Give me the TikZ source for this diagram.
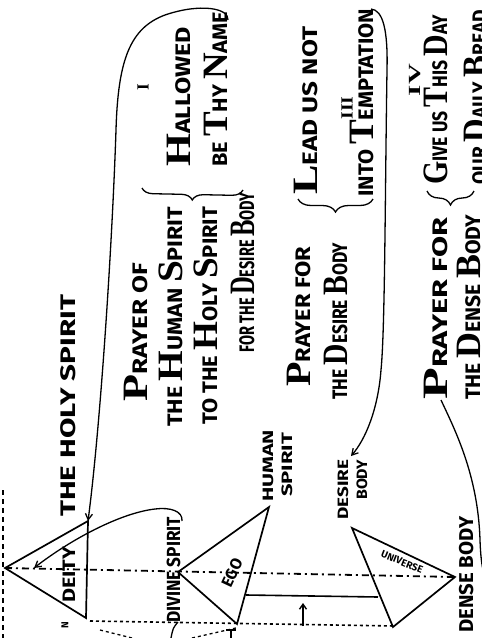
\documentclass[tikz,border=0pt]{standalone}
\usepackage{fontspec}
\setmainfont{Fira Sans}
\newfontfamily\capfont{Liberation Serif}
\usepackage{graphicx}
\usetikzlibrary{arrows.meta, decorations.pathreplacing}
\newcommand{\bigc}[1]{\scalebox{1.7}{\capfont\bfseries #1}}
\newcommand{\fitw}[2]{\resizebox{#1pt}{\height}{#2}}
\tikzset{
  vtext/.style={rotate=90, anchor=base west, inner sep=0pt, font=\fontsize{21}{21}\selectfont\bfseries},
  vlabel/.style={rotate=90, anchor=base west, inner sep=0pt, font=\fontsize{15}{15}\selectfont\bfseries},
  roman/.style={rotate=90, inner sep=0pt, font=\fontsize{17}{17}\selectfont\capfont\bfseries},
  tri/.style={line width=1.7pt, line join=miter},
  conn/.style={line width=1.3pt, -{Straight Barb[length=6pt, width=7pt]}},
  axis/.style={line width=1.8pt, dash pattern=on 7pt off 4pt on 2pt off 4pt},
  brc/.style={line width=1.3pt, decorate, decoration={brace, amplitude=#1}},
}

\begin{document}
\begin{tikzpicture}[x=1pt, y=-1pt]
\useasboundingbox (0,0) rectangle (482,638);
\clip (0,0) rectangle (482,638);

\coordinate (dapex) at (5,568);
\coordinate (dtop) at (88,521);
\coordinate (dbot) at (86,618);
\coordinate (eapex) at (178,572);
\coordinate (etop) at (269,507);
\coordinate (ebot) at (237,624);
\coordinate (btop) at (352,528);
\coordinate (bapex) at (455,577);
\coordinate (bbot) at (393,627);

\draw[tri] (dapex) -- (dtop) -- (dbot) -- cycle;
\draw[tri] (eapex) -- (etop) -- (ebot) -- cycle;
\draw[tri] (btop) -- (bapex) -- (bbot) -- cycle;

\draw[axis] (dapex) -- (bapex);
\draw[line width=1.6pt, dashed] (90,621) -- (395,626);
\draw[line width=1.6pt] (246,595) -- (378,597);
\draw[line width=1.4pt, -{Straight Barb[length=5pt, width=7pt]}] (303,626) -- (303,603);

\draw[line width=1.5pt, dash pattern=on 5pt off 4pt] (3,490) -- (3,638);
\draw[line width=1.3pt, dashed] (100,630) -- (132,638);
\draw[line width=1.3pt] (178,622) .. controls (173,628) .. (171,638);
\draw[line width=1.3pt, dashed] (192,638) -- (236,628);
\draw[line width=1.3pt] (226,630) -- (236,630) (231,630) -- (231,638);

\node[vtext] (holysp) at (75,517) {\fitw{222}{THE HOLY SPIRIT}};
\node[vtext] (pray1) at (147,402) {\fitw{139}{\bigc{P}RAYER OF}};
\node[vtext] (humsp) at (182,427) {\fitw{220}{THE \bigc{H}UMAN \bigc{S}PIRIT}};
\node[vtext] (tohs) at (217,425) {\fitw{218}{TO THE \bigc{H}OLY \bigc{S}PIRIT}};
\node[vtext] (fordb) at (254,353) {\fitw{160}{FOR THE \bigc{D}ESIRE \bigc{B}ODY}};
\node[roman] (num1) at (143,87) {I};
\node[vtext] (hallow) at (190,167) {\fitw{140}{\bigc{H}ALLOWED}};
\node[vtext] (bethy) at (227,167) {\fitw{155}{BE \bigc{T}HY \bigc{N}AME}};
\draw[brc=11pt] (243,190) -- (142,188);

\node[roman] (num3) at (347,108) {\fitw{23}{III}};
\node[vtext] (pray2) at (310,387) {\fitw{140}{\bigc{P}RAYER FOR}};
\node[vtext] (thedb) at (347,400) {\fitw{157}{THE \bigc{D}ESIRE \bigc{B}ODY}};
\node[vtext] (lead) at (317,195) {\fitw{168}{\bigc{L}EAD US NOT}};
\node[vtext] (into) at (373,197) {\fitw{188}{INTO \bigc{T}EMPTATION}};
\draw[brc=13pt] (373,199) -- (298,199);

\node[roman] (num4) at (415,80) {\fitw{32}{IV}};
\node[vtext] (pray3) at (447,400) {\fitw{182}{\bigc{P}RAYER FOR}};
\node[vtext] (theden) at (480,400) {\fitw{185}{THE \bigc{D}ENSE \bigc{B}ODY}};
\node[vtext] (give) at (447,185) {\fitw{170}{\bigc{G}IVE US \bigc{T}HIS \bigc{D}AY}};
\node[vtext] (ourd) at (487,185) {\fitw{175}{OUR \bigc{D}AILY \bigc{B}READ}};
\draw[brc=14pt] (474,191) -- (427,191);

\node[vlabel, font=\fontsize{19}{19}\selectfont\bfseries] (divsp) at (180,623) {\fitw{106}{DIVINE SPIRIT}};
\node[vlabel] (hum1) at (273,502) {\fitw{72}{HUMAN}};
\node[vlabel] (hum2) at (292,497) {\fitw{64}{SPIRIT}};
\node[vlabel] (des1) at (348,520) {\fitw{60}{DESIRE}};
\node[vlabel] (des2) at (367,500) {\fitw{40}{BODY}};
\node[vlabel, font=\fontsize{20}{20}\selectfont\bfseries] (dense) at (473,633) {\fitw{116}{DENSE BODY}};
\node[vlabel, font=\fontsize{18}{18}\selectfont\bfseries] (deity) at (75,603) {\fitw{56}{DEITY}};
\node[rotate=65, inner sep=0pt, font=\fontsize{16}{16}\selectfont\bfseries] (ego) at (232,573) {EGO};
\node[rotate=-22, inner sep=0pt, font=\fontsize{10}{10}\selectfont\bfseries] (univ) at (402,562) {UNIVERSE};
\node[rotate=90, inner sep=0pt, font=\fontsize{10}{10}\selectfont\bfseries] (nmark) at (65,625) {N};

\coordinate (c1s) at (228,20);
\coordinate (c2s) at (182,521);
\coordinate (c2e) at (34,568);
\coordinate (c3s) at (371,9);
\coordinate (c3e) at (351,456);
\coordinate (c4s) at (441,400);
\coordinate (c4e) at (495,590);
\draw[conn] (c1s) .. controls (229,8) and (200,3) .. (165,15) .. controls (130,28) and (118,60) .. (116,130) .. controls (112,250) and (100,430) .. (dtop);
\draw[conn] (c2s) .. controls (183,511) and (170,507) .. (155,509) .. controls (120,513) and (70,540) .. (c2e);
\draw[conn] (c3s) .. controls (383,10) and (388,30) .. (387,70) .. controls (385,200) and (385,330) .. (381,370) .. controls (378,410) and (365,440) .. (c3e);
\draw[line width=1.3pt] (c4s) .. controls (455,430) and (478,475) .. (480,540) .. controls (481,570) and (485,585) .. (c4e);
\end{tikzpicture}
\end{document}
